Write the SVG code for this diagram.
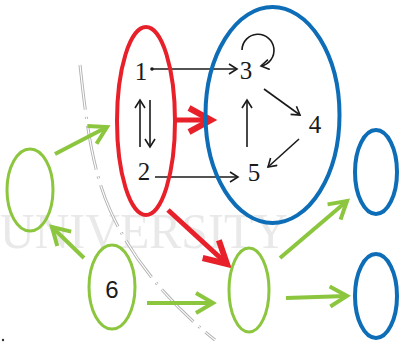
<svg xmlns="http://www.w3.org/2000/svg" width="401" height="346" viewBox="0 0 401 346">
<style>
.num{font-family:"Liberation Serif","DejaVu Serif",serif;font-size:25px;fill:#1a1a1a;text-anchor:middle}
.blk{stroke:#1a1a1a;stroke-width:1.6;fill:none}
.red{stroke:#e8202a;fill:none}
.blue{stroke:#0e6db7;stroke-width:4;fill:none}
.grn{stroke:#8cc63f;fill:none}
.ga{stroke:#8cc63f;stroke-width:4;fill:none}
.ra{stroke:#e8202a;stroke-width:5;fill:none}
</style>
<defs>
<marker id="mb" markerUnits="userSpaceOnUse" markerWidth="14" markerHeight="14" refX="10" refY="6" orient="auto">
<path d="M2,1 L10,6 L2,11" fill="none" stroke="#1a1a1a" stroke-width="1.6"/>
</marker>
<marker id="mr" markerUnits="userSpaceOnUse" markerWidth="34" markerHeight="34" refX="26" refY="15" orient="auto">
<path d="M4,3 L26,15 L4,27" fill="none" stroke="#e8202a" stroke-width="6" stroke-linejoin="miter"/>
</marker>
<marker id="mg" markerUnits="userSpaceOnUse" markerWidth="28" markerHeight="28" refX="20" refY="12" orient="auto">
<path d="M3,2 L20,12 L3,22" fill="none" stroke="#8cc63f" stroke-width="4"/>
</marker>
</defs>
<rect width="401" height="346" fill="#fff"/>
<g id="watermark">
<text x="0" y="248" font-family="Liberation Serif, serif" font-size="50" fill="#e9e9e9" textLength="288" lengthAdjust="spacingAndGlyphs">UNIVERSITY</text>
<path d="M80,65 C86,120 92,170 110,210 C130,255 165,300 215,340" fill="none" stroke="#b0b0b0" stroke-width="3" stroke-dasharray="45 7 2 7"/>
<path d="M80,65 C86,120 92,170 110,210 C130,255 165,300 215,340" fill="none" stroke="#fff" stroke-width="1.2" stroke-dasharray="45 7 2 7"/>
<circle cx="3" cy="340" r="1.2" fill="#333"/>
</g>
<g id="connectors">
<circle cx="152" cy="69" r="1.8" fill="#1a1a1a"/>
<line class="blk" x1="152" y1="69" x2="237" y2="69" marker-end="url(#mb)"/>
<path class="blk" d="M242,50 A16,16 0 1 1 261,66" marker-end="url(#mb)"/>
<line class="blk" x1="264" y1="89" x2="300" y2="115" marker-end="url(#mb)"/>
<line class="blk" x1="299" y1="139" x2="268" y2="167" marker-end="url(#mb)"/>
<line class="blk" x1="247" y1="147" x2="247" y2="100" marker-end="url(#mb)"/>
<line class="blk" x1="155" y1="177" x2="238" y2="177" marker-end="url(#mb)"/>
<line class="blk" x1="140" y1="147" x2="140" y2="100" marker-end="url(#mb)"/>
<line class="blk" x1="150" y1="100" x2="150" y2="147" marker-end="url(#mb)"/>
<line class="ra" x1="176" y1="120" x2="211" y2="120" marker-end="url(#mr)" stroke-width="6"/>
<line class="ra" x1="168" y1="210" x2="227" y2="264" marker-end="url(#mr)"/>
<line class="ga" x1="55" y1="154" x2="107" y2="127" marker-end="url(#mg)"/>
<line class="ga" x1="84" y1="258" x2="52" y2="227" marker-end="url(#mg)"/>
<line class="ga" x1="147" y1="303" x2="213" y2="303" marker-end="url(#mg)"/>
<line class="ga" x1="280" y1="258" x2="347" y2="201" marker-end="url(#mg)"/>
<line class="ga" x1="286" y1="298" x2="347" y2="296" marker-end="url(#mg)"/>
</g>
<g id="red-set">
<ellipse class="red" cx="146" cy="121" rx="29" ry="94" stroke-width="4"/>
</g>
<g id="blue-set">
<ellipse class="blue" cx="272.5" cy="115" rx="67" ry="108"/>
</g>
<g id="n1"><text class="num" x="141" y="80">1</text></g>
<g id="n2"><text class="num" x="144" y="180">2</text></g>
<g id="n3"><text class="num" x="246" y="79">3</text></g>
<g id="n4"><text class="num" x="315" y="133">4</text></g>
<g id="n5"><text class="num" x="254" y="181">5</text></g>
<g id="g-left"><ellipse class="grn" cx="30" cy="190" rx="23" ry="41" stroke-width="3"/></g>
<g id="n6"><ellipse class="grn" cx="112" cy="287" rx="23" ry="42" stroke-width="3"/>
<text x="112" y="298" font-family="Liberation Sans, Arial, sans-serif" font-size="24" fill="#1a1a1a" text-anchor="middle">6</text></g>
<g id="g-mid"><ellipse class="grn" cx="249" cy="290" rx="20" ry="42" stroke-width="3"/></g>
<g id="b-top"><ellipse class="blue" cx="376" cy="172" rx="21" ry="42"/></g>
<g id="b-bot"><ellipse class="blue" cx="376" cy="296" rx="21" ry="42"/></g>
</svg>
